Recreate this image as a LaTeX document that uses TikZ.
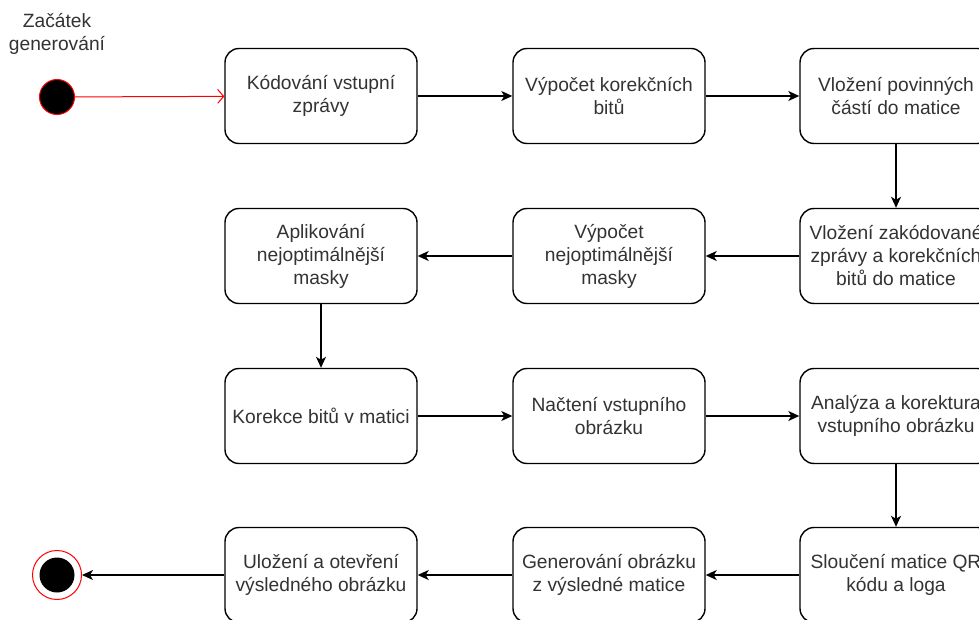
\documentclass[tikz,border=0pt]{standalone}
\usepackage{fontspec}
\setmainfont{Liberation Sans}
\usetikzlibrary{arrows.meta}
\definecolor{txt}{HTML}{333333}
\tikzset{
  stepbox/.style={draw=black, line width=1.4pt, rounded corners=14pt, fill=white,
    minimum width=192pt, minimum height=95pt, inner sep=0pt, align=center,
    text=txt, font=\fontsize{19.2}{23}\selectfont},
  flow/.style={draw=black, line width=1.4pt, -{Stealth[length=11pt,width=10pt,inset=3pt]}},
  lbl/.style={text=txt, align=center, font=\fontsize{19.2}{23}\selectfont, inner sep=0pt}
}
\begin{document}
\begin{tikzpicture}[x=1pt,y=-1pt]
\useasboundingbox (0,0) rectangle (979,620);
\clip (0,0) rectangle (979,620);
\fill[white] (0,0) rectangle (979,620);

\node[lbl] (startlbl) at (57,34) {Začátek\\generování};
\node[circle, draw=red, line width=1pt, fill=black, minimum size=35pt, inner sep=0pt] (start) at (57,97) {};

\node[stepbox] (a1) at (321,96) {Kódování vstupní\\zprávy};
\node[stepbox] (a2) at (609,96) {Výpočet korekčních\\bitů};
\node[stepbox] (a3) at (896,96) {Vložení povinných\\částí do matice};

\node[stepbox] (b3) at (896,256) {Vložení zakódované\\zprávy a korekčních\\bitů do matice};
\node[stepbox] (b2) at (609,256) {Výpočet\\nejoptimálnější\\masky};
\node[stepbox] (b1) at (321,256) {Aplikování\\nejoptimálnější\\masky};

\node[stepbox] (c1) at (321,416) {Korekce bitů v matici};
\node[stepbox] (c2) at (609,416) {Načtení vstupního\\obrázku};
\node[stepbox] (c3) at (896,416) {Analýza a korektura\\vstupního obrázku};

\node[stepbox] (d3) at (896,575) {Sloučení matice QR\\kódu a loga};
\node[stepbox] (d2) at (609,575) {Generování obrázku\\z výsledné matice};
\node[stepbox] (d1) at (321,575) {Uložení a otevření\\výsledného obrázku};

\node[circle, draw=red, line width=1pt, fill=white, minimum size=49pt, inner sep=0pt] (endo) at (57,575) {};
\node[circle, fill=black, minimum size=35pt, inner sep=0pt] (endi) at (57,575) {};

\draw[red, line width=1pt, -{Straight Barb[length=6pt,width=14pt]}] (start) -- (a1);
\draw[flow] (a1) -- (a2);
\draw[flow] (a2) -- (a3);
\draw[flow] (a3) -- (b3);
\draw[flow] (b3) -- (b2);
\draw[flow] (b2) -- (b1);
\draw[flow] (b1) -- (c1);
\draw[flow] (c1) -- (c2);
\draw[flow] (c2) -- (c3);
\draw[flow] (c3) -- (d3);
\draw[flow] (d3) -- (d2);
\draw[flow] (d2) -- (d1);
\draw[flow] (d1) -- (endo);
\end{tikzpicture}
\end{document}
